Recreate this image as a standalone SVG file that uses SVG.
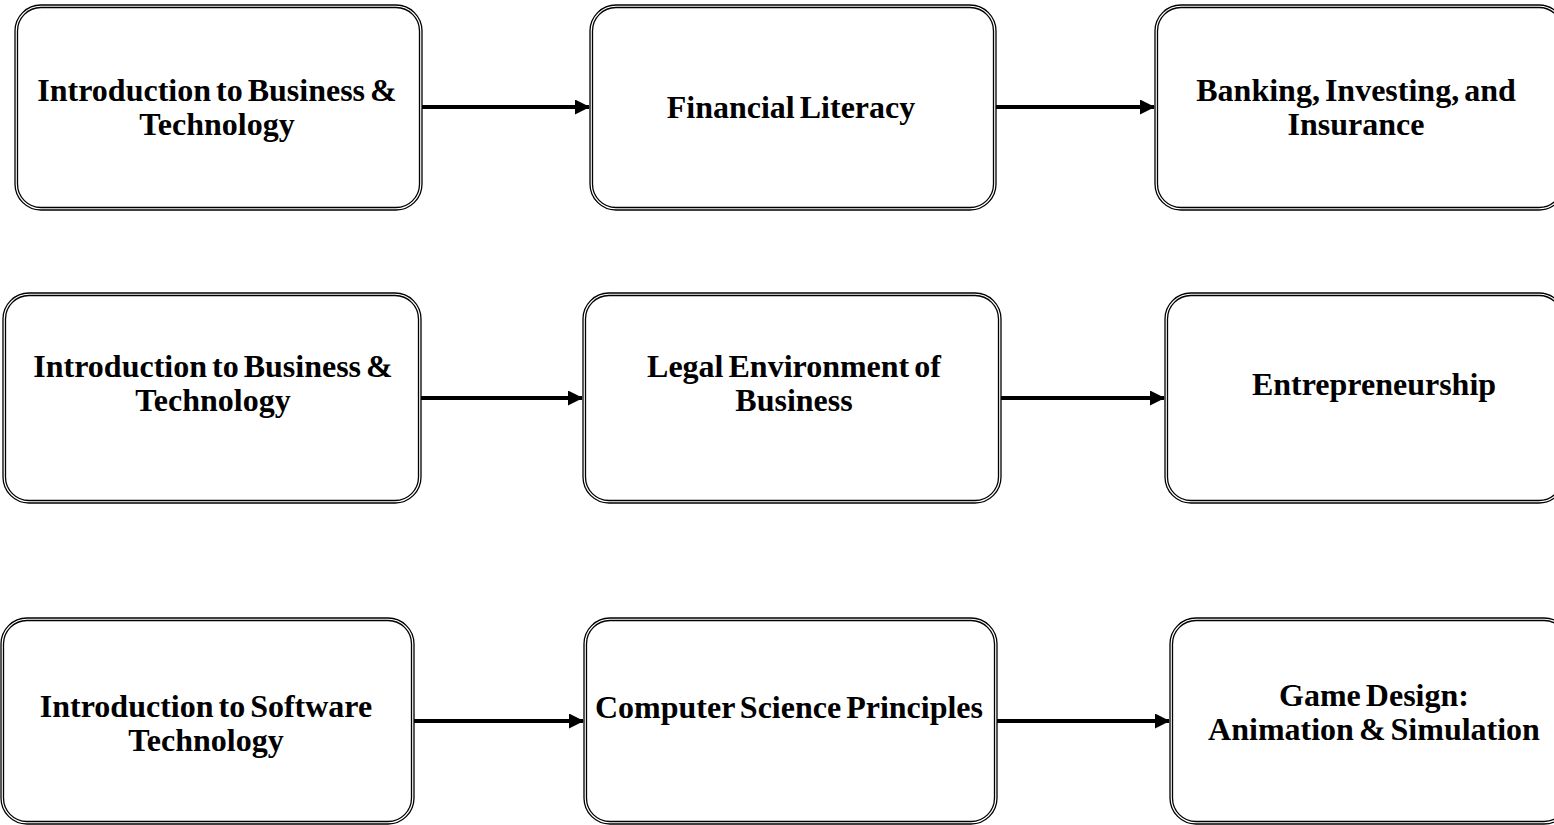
<svg xmlns="http://www.w3.org/2000/svg" width="1554" height="825" viewBox="0 0 1554 825">
<defs>
<style>
.o{fill:#fff;stroke:#000;stroke-width:1.3}
.i{fill:none;stroke:#000;stroke-width:1.3}
.t{font-family:"Liberation Serif","Times New Roman",serif;font-weight:bold;font-size:32px;word-spacing:-3px;fill:#000;text-anchor:middle}
.c{stroke:#000;stroke-width:4;fill:none;marker-end:url(#ah)}
</style>
<marker id="ah" markerWidth="15" markerHeight="15" refX="14" refY="7.5" orient="auto" markerUnits="userSpaceOnUse">
<path d="M0,0 L15,7.5 L0,15 Z" fill="#000"/>
</marker>
</defs>
<rect width="1554" height="825" fill="#fff"/>
<g id="connectors">
<line class="c" x1="422" y1="107" x2="589" y2="107"/>
<line class="c" x1="996" y1="107" x2="1154" y2="107"/>
<line class="c" x1="421" y1="398" x2="582" y2="398"/>
<line class="c" x1="1001" y1="398" x2="1164" y2="398"/>
<line class="c" x1="414" y1="721" x2="583" y2="721"/>
<line class="c" x1="997" y1="721" x2="1169" y2="721"/>
</g>
<g id="n1">
<rect class="o" x="15" y="5" width="407" height="205" rx="26"/>
<rect class="i" x="17.5" y="7.5" width="402" height="200" rx="23.5"/>
<text class="t" x="217" y="101">Introduction to Business &amp;</text>
<text class="t" x="217" y="135">Technology</text>
</g>
<g id="n2">
<rect class="o" x="590" y="5" width="406" height="205" rx="26"/>
<rect class="i" x="592.5" y="7.5" width="401" height="200" rx="23.5"/>
<text class="t" x="791" y="118">Financial Literacy</text>
</g>
<g id="n3">
<rect class="o" x="1155" y="5" width="410" height="205" rx="26"/>
<rect class="i" x="1157.5" y="7.5" width="405" height="200" rx="23.5"/>
<text class="t" x="1356" y="101">Banking, Investing, and</text>
<text class="t" x="1356" y="135">Insurance</text>
</g>
<g id="n4">
<rect class="o" x="3" y="293" width="418" height="210" rx="26"/>
<rect class="i" x="5.5" y="295.5" width="413" height="205" rx="23.5"/>
<text class="t" x="213" y="377">Introduction to Business &amp;</text>
<text class="t" x="213" y="411">Technology</text>
</g>
<g id="n5">
<rect class="o" x="583" y="293" width="418" height="210" rx="26"/>
<rect class="i" x="585.5" y="295.5" width="413" height="205" rx="23.5"/>
<text class="t" x="794" y="377">Legal Environment of</text>
<text class="t" x="794" y="411">Business</text>
</g>
<g id="n6">
<rect class="o" x="1165" y="293" width="400" height="210" rx="26"/>
<rect class="i" x="1167.5" y="295.5" width="395" height="205" rx="23.5"/>
<text class="t" x="1374" y="395">Entrepreneurship</text>
</g>
<g id="n7">
<rect class="o" x="1" y="618" width="413" height="206" rx="26"/>
<rect class="i" x="3.5" y="620.5" width="408" height="201" rx="23.5"/>
<text class="t" x="206" y="717">Introduction to Software</text>
<text class="t" x="206" y="751">Technology</text>
</g>
<g id="n8">
<rect class="o" x="584" y="618" width="413" height="206" rx="26"/>
<rect class="i" x="586.5" y="620.5" width="408" height="201" rx="23.5"/>
<text class="t" x="789" y="718">Computer Science Principles</text>
</g>
<g id="n9">
<rect class="o" x="1170" y="618" width="400" height="206" rx="26"/>
<rect class="i" x="1172.5" y="620.5" width="395" height="201" rx="23.5"/>
<text class="t" x="1374" y="706">Game Design:</text>
<text class="t" x="1374" y="740">Animation &amp; Simulation</text>
</g>
</svg>
